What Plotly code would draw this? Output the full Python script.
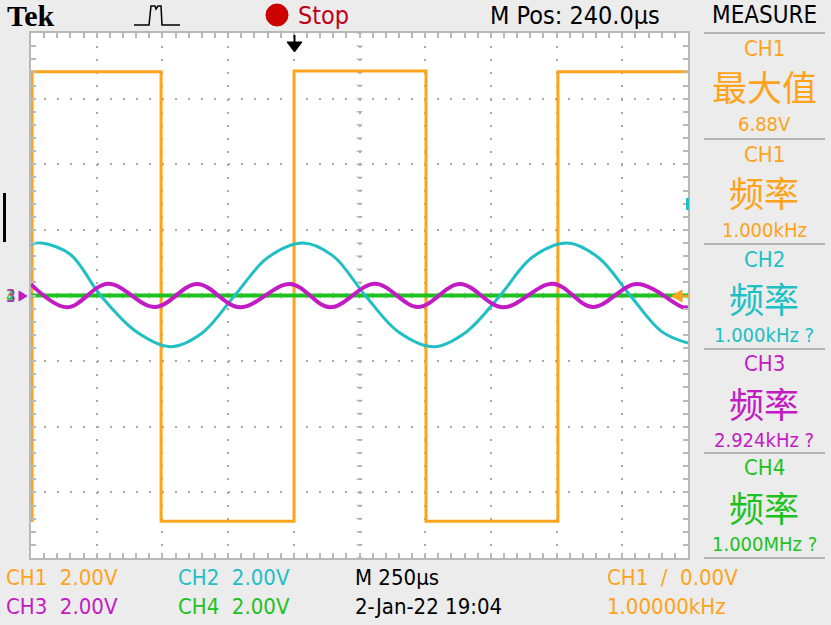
import plotly.graph_objects as go

# --- waveform data (time in us, volts) ---
ch1_t = [0, 4, 4, 495, 495, 1001, 1001, 1503, 1503, 2005, 2005, 2500]
ch1_v = [-6.86, -6.86, 6.82, 6.82, -6.88, -6.88, 6.84, 6.84, -6.88, -6.88, 6.82, 6.82]

ch2_t = [0, 40, 150, 265, 400, 530, 650, 775, 900, 1035, 1150, 1272,
         1400, 1535, 1655, 1785, 1905, 2040, 2160, 2280, 2400, 2500]
ch2_v = [1.56, 1.60, 1.25, 0.0, -1.10, -1.56, -1.15, 0.0, 1.15, 1.60, 1.20, 0.0,
         -1.12, -1.56, -1.12, 0.0, 1.15, 1.60, 1.15, 0.0, -1.10, -1.45]

ch3_t = [0, 137, 293, 472, 632, 795, 986, 1138, 1309, 1473, 1632, 1796,
         1986, 2138, 2306, 2481, 2500]
ch3_v = [0.34, -0.36, 0.36, -0.35, 0.35, -0.36, 0.35, -0.36, 0.36, -0.35, 0.35, -0.36,
         0.36, -0.35, 0.35, -0.36, -0.35]

ch4_t = [0, 2500]
ch4_v = [0.0, 0.0]

# measure panel
meas_ch = ["CH1", "CH1", "CH2", "CH3", "CH4"]
meas_name = ["最大值", "频率", "频率", "频率", "频率"]
meas_val = ["6.88V", "1.000kHz", "1.000kHz ?", "2.924kHz ?", "1.000MHz ?"]

ORANGE = "#ffa31a"
CYAN = "#20bfc4"
MAGENTA = "#c21bc4"
GREEN = "#1ec21e"
meas_col = [ORANGE, ORANGE, CYAN, MAGENTA, GREEN]

W, H = 831, 625
L, R, T, B = 31, 688, 33, 558
NARROW = "Liberation Sans Narrow, DejaVu Sans Condensed, Arial Narrow, sans-serif"
CJK = "Noto Sans CJK SC"


def px(x):
    return (x - L) / (R - L)


def py(y):
    return (B - y) / (B - T)


fig = go.Figure()
fig.add_trace(go.Scatter(x=ch1_t, y=ch1_v, mode="lines", line=dict(color=ORANGE, width=3)))
fig.add_trace(go.Scatter(x=ch4_t, y=ch4_v, mode="lines", line=dict(color=GREEN, width=4)))
fig.add_trace(go.Scatter(x=ch2_t, y=ch2_v, mode="lines", line=dict(color=CYAN, width=3, shape="spline")))
fig.add_trace(go.Scatter(x=ch3_t, y=ch3_v, mode="lines", line=dict(color=MAGENTA, width=4, shape="spline")))

GRID = "#a9a9a9"
axis_common = dict(showline=True, linecolor="#b8b8b8", linewidth=2, mirror="allticks",
                   ticks="inside", ticklen=5, tickcolor="#b8b8b8", tickwidth=1.5,
                   showticklabels=False, zeroline=False, showgrid=True,
                   gridcolor=GRID, gridwidth=2, griddash="2px,11.1px")
fig.update_xaxes(range=[0, 2500], dtick=250, tick0=0,
                 minor=dict(dtick=50, ticks="inside", ticklen=5, tickcolor="#b8b8b8", showgrid=False),
                 **axis_common)
fig.update_yaxes(range=[-8, 8], dtick=2, tick0=0,
                 minor=dict(dtick=0.4, ticks="inside", ticklen=5, tickcolor="#b8b8b8", showgrid=False),
                 **axis_common)

shapes = []
# centre cross tick marks
for k in range(51):
    t = k * 50
    shapes.append(dict(type="line", xref="x", yref="y", x0=t, x1=t, y0=-0.09, y1=0.09,
                       line=dict(color="#b8b8b8", width=1.5), layer="below"))
for k in range(41):
    v = -8 + k * 0.4
    shapes.append(dict(type="line", xref="x", yref="y", x0=1239, x1=1261, y0=v, y1=v,
                       line=dict(color="#b8b8b8", width=1.5), layer="below"))

# measure separators
for ytop in [33, 139, 244, 349, 453, 558]:
    shapes.append(dict(type="line", xref="paper", yref="paper", x0=px(704), x1=px(825),
                       y0=py(ytop), y1=py(ytop), line=dict(color="#b4b4b4", width=2)))

# run/stop dot
shapes.append(dict(type="circle", xref="paper", yref="paper", x0=px(266), x1=px(288),
                   y0=py(4), y1=py(26), fillcolor="#cc0000", line=dict(color="#cc0000", width=1)))
# acquisition icon
icon = [(134, 25), (149, 25), (151, 6), (155, 6), (156, 9), (158, 6), (161, 6), (162, 25), (180, 25)]
shapes.append(dict(type="path", xref="paper", yref="paper",
                   path="M " + " L ".join(f"{px(a)},{py(b)}" for a, b in icon),
                   line=dict(color="black", width=1.5)))
# trigger position arrow
tri = [(287, 42), (302, 42), (294.5, 52)]
shapes.append(dict(type="path", xref="paper", yref="paper",
                   path="M " + " L ".join(f"{px(a)},{py(b)}" for a, b in tri) + " Z",
                   fillcolor="black", line=dict(color="black", width=1)))
shapes.append(dict(type="line", xref="paper", yref="paper", x0=px(294.5), x1=px(294.5),
                   y0=py(35), y1=py(43), line=dict(color="black", width=2)))
# trigger level arrow (right)
tl = [(672, 296), (682, 290), (682, 302)]
shapes.append(dict(type="path", xref="paper", yref="paper",
                   path="M " + " L ".join(f"{px(a)},{py(b)}" for a, b in tl) + " Z",
                   fillcolor=ORANGE, line=dict(color=ORANGE, width=1)))
shapes.append(dict(type="line", xref="paper", yref="paper", x0=px(680), x1=px(690),
                   y0=py(296), y1=py(296), line=dict(color=ORANGE, width=2)))
shapes.append(dict(type="rect", xref="paper", yref="paper", x0=px(686), x1=px(689),
                   y0=py(210), y1=py(198), fillcolor=CYAN, line=dict(width=0)))
# left position bar
shapes.append(dict(type="rect", xref="paper", yref="paper", x0=px(3), x1=px(6),
                   y0=py(242), y1=py(193), fillcolor="black", line=dict(width=0)))
# channel ground marker arrow
gm = [(27, 296), (19, 291), (19, 301)]
shapes.append(dict(type="path", xref="paper", yref="paper",
                   path="M " + " L ".join(f"{px(a)},{py(b)}" for a, b in gm) + " Z",
                   fillcolor=MAGENTA, line=dict(color=MAGENTA, width=1)))

ann = []


def text(s, x, y, color, size, family=NARROW, anchor="left", bold=False):
    ann.append(dict(text=f"<b>{s}</b>" if bold else s, x=px(x), y=py(y), xref="paper", yref="paper",
                    xanchor=anchor, yanchor="middle", showarrow=False,
                    font=dict(color=color, size=size, family=family)))


text("Tek", 5, 15, "black", 30, family="Liberation Serif, DejaVu Serif, serif", bold=True)
text("Stop", 296, 15, "#c0001a", 25)
text("M Pos: 240.0µs", 575, 15, "black", 25, anchor="center")
text("MEASURE", 764, 15, "black", 24, anchor="center")

for i in range(5):
    top = [33, 139, 244, 349, 453][i]
    text(meas_ch[i], 764, top + 15, meas_col[i], 22, anchor="center")
    text(meas_name[i], 764, top + 53, meas_col[i], 35, family=CJK, anchor="center")
    text(meas_val[i], 764, top + 91, meas_col[i], 20, anchor="center")

text("CH1  2.00V", 4, 577, ORANGE, 22)
text("CH2  2.00V", 176, 577, CYAN, 22)
text("M 250µs", 353, 577, "black", 22)
text("CH1  /  0.00V", 605, 577, ORANGE, 22)
text("CH3  2.00V", 4, 606, MAGENTA, 22)
text("CH4  2.00V", 176, 606, GREEN, 22)
text("2-Jan-22 19:04", 353, 606, "black", 22)
text("1.00000kHz", 605, 606, ORANGE, 22)

for d, c in [("1", ORANGE), ("2", CYAN), ("4", GREEN), ("3", MAGENTA)]:
    text(d, 11, 296, c, 17, anchor="center")

fig.update_layout(width=W, height=H, margin=dict(l=L, r=W - R, t=T, b=H - B),
                  paper_bgcolor="#ececec", plot_bgcolor="white", showlegend=False,
                  shapes=shapes, annotations=ann)

fig.write_html("out.html", config={"displayModeBar": False},
               post_script="document.body.style.margin='0';")
